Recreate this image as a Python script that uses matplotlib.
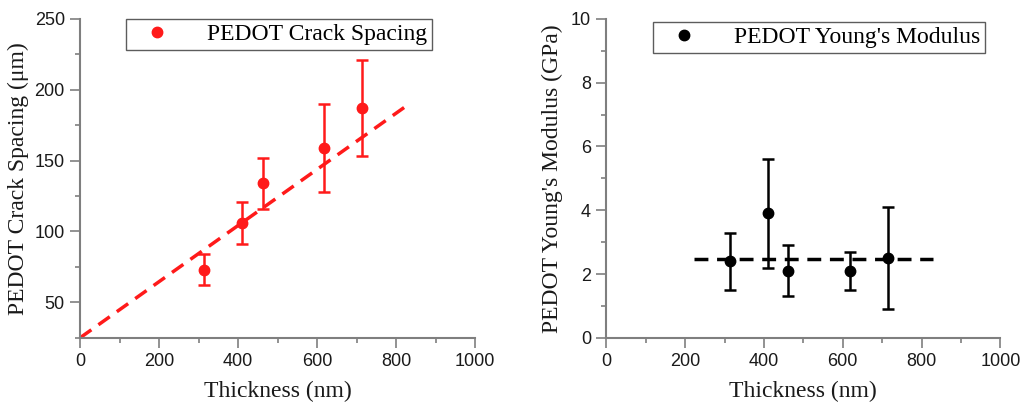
import numpy as np
import matplotlib
matplotlib.use("Agg")
import matplotlib.pyplot as plt
from matplotlib.ticker import MultipleLocator

# thickness of the films (nm)
thickness = [314, 411, 462, 618, 714]

# crack spacing (um) and its error
crack = [73, 106, 134, 159, 187]
crack_err = [11, 15, 18, 31, 34]
crack_fit = (25.0, 0.198)   # intercept, slope
crack_fit_x = [0, 830]

# young's modulus (GPa) and its error
modulus = [2.4, 3.9, 2.1, 2.1, 2.5]
modulus_err = [0.9, 1.7, 0.8, 0.6, 1.6]
modulus_mean = 2.48
modulus_fit_x = [223, 830]

serif = ["Liberation Serif", "DejaVu Serif"]
sans = ["Liberation Sans", "DejaVu Sans"]
RED = "#ff1a1a"

fig = plt.figure(figsize=(10.26, 4.09), dpi=100)
ax1 = fig.add_axes([0.078, 0.174, 0.385, 0.780])
ax2 = fig.add_axes([0.591, 0.174, 0.384, 0.780])

def style(ax):
    for s in ["top", "right"]:
        ax.spines[s].set_visible(False)
    for s in ["left", "bottom"]:
        ax.spines[s].set_color("#7f7f7f")
        ax.spines[s].set_linewidth(1.5)
    ax.tick_params(which="both", direction="out", color="#7f7f7f", width=1.2,
                   labelsize=13, labelcolor="#1a1a1a")
    ax.tick_params(which="major", length=7, pad=4)
    ax.tick_params(which="minor", length=3.5)
    for lab in ax.get_xticklabels() + ax.get_yticklabels():
        lab.set_family(sans)
    ax.set_xlabel("Thickness (nm)", family=serif, fontsize=17, color="#1a1a1a", labelpad=8)

def legend(ax, anchor):
    leg = ax.legend(loc="upper right", bbox_to_anchor=anchor, prop={"family": serif, "size": 17},
                    frameon=True, fancybox=False, handletextpad=1.0, borderpad=0.2,
                    handlelength=2.2, borderaxespad=0)
    leg.get_frame().set_edgecolor("#333333")
    leg.get_frame().set_linewidth(1.0)

# left panel
fx = np.array(crack_fit_x)
ax1.plot(fx, crack_fit[0] + crack_fit[1] * fx, ls=(0, (4, 2.5)), color=RED, lw=2.5)
ax1.errorbar(thickness, crack, yerr=crack_err, fmt="o", color=RED, ms=7.5,
             capsize=4, elinewidth=1.8, capthick=1.8)
ax1.plot([], [], "o", color=RED, ms=7.5, label="PEDOT Crack Spacing")
ax1.set_xlim(0, 1000)
ax1.set_ylim(25, 250)
ax1.xaxis.set_major_locator(MultipleLocator(200))
ax1.xaxis.set_minor_locator(MultipleLocator(100))
ax1.yaxis.set_minor_locator(MultipleLocator(25))
ax1.set_yticks([50, 100, 150, 200, 250])
ax1.set_ylabel("PEDOT Crack Spacing (\u03bcm)", family=serif, fontsize=17, color="#1a1a1a", labelpad=4)
style(ax1)
legend(ax1, (0.89, 1.0))

# right panel
ax2.plot(modulus_fit_x, [modulus_mean] * len(modulus_fit_x), ls=(0, (4, 2.5)), color="black", lw=2.5)
ax2.errorbar(thickness, modulus, yerr=modulus_err, fmt="o", color="black", ms=7.5,
             capsize=4, elinewidth=1.8, capthick=1.8)
ax2.plot([], [], "o", color="black", ms=7.5, label="PEDOT Young's Modulus")
ax2.set_xlim(0, 1000)
ax2.set_ylim(0, 10)
ax2.xaxis.set_major_locator(MultipleLocator(200))
ax2.xaxis.set_minor_locator(MultipleLocator(100))
ax2.yaxis.set_major_locator(MultipleLocator(2))
ax2.yaxis.set_minor_locator(MultipleLocator(1))
ax2.set_ylabel("PEDOT Young's Modulus (GPa)", family=serif, fontsize=17, color="#1a1a1a", labelpad=6)
style(ax2)
legend(ax2, (0.96, 0.99))

fig.savefig("out.png", dpi=100)
